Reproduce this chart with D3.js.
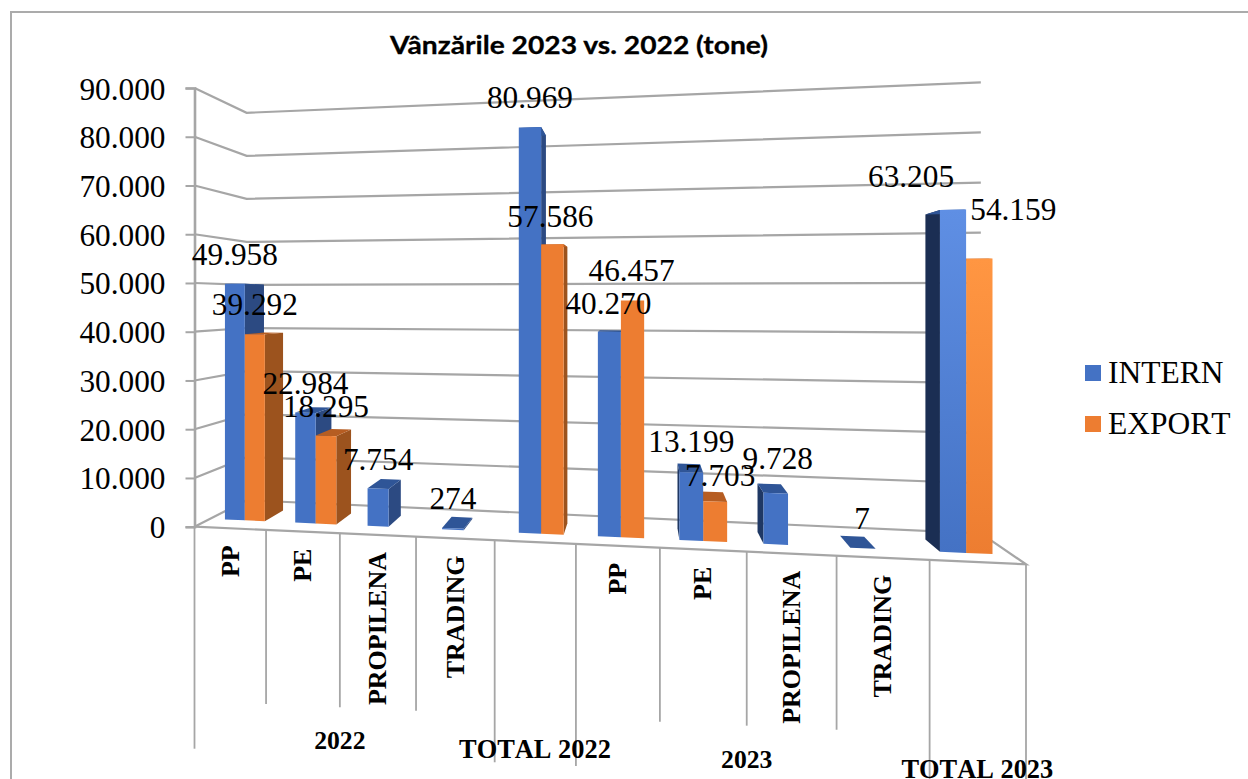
<!DOCTYPE html>
<html>
<head>
<meta charset="utf-8">
<script src="https://cdn.jsdelivr.net/npm/d3@7/dist/d3.min.js"></script>
<style>
html,body{margin:0;padding:0;background:#fff;overflow:hidden}
svg{display:block}
text{font-family:"Liberation Serif","Times New Roman",serif;fill:#000}
</style>
</head>
<body>
<svg id="chart" width="1248" height="779"></svg>
<script>
// ---- data ----
const chartTitle = "Vânzările 2023 vs. 2022 (tone)";
const categories = ["PP","PE","PROPILENA","TRADING","","PP","PE","PROPILENA","TRADING",""];
const groups = [
  {name:"2022", from:0, to:4},
  {name:"TOTAL 2022", from:4, to:5},
  {name:"2023", from:5, to:9},
  {name:"TOTAL 2023", from:9, to:10}
];
const seriesNames = ["INTERN","EXPORT"];
const intern = [49958,22984,7754,274,80969,40270,13199,9728,7,63205];
const exportValues = [39292,18295,null,null,57586,46457,7703,null,null,54159];
const yTicks = [0,10000,20000,30000,40000,50000,60000,70000,80000,90000];
// hand-moved data labels in the original: [dx, dy]
const internLabelShift = [[0,0],[0,0],[0,0],[0,0],[0,0],[-1,1],[0,-1],[2,-5],[-1,0],[-42,-4]];
const exportLabelShift = [[0,0],[0,0],null,null,[-2,2],[-1,0],[5,3],null,null,[34,-20]];

// ---- style ----
const BLUE = {front:"#4472C4", right:"#2C4A82", left:"#1F3864", top:"#2F5597"};
const ORANGE = {front:"#ED7D31", right:"#9C531E", left:"#8A4A1C", top:"#B65D22"};
const GRID = "#A6A6A6";

const svg = d3.select("#chart");
const defs = svg.append("defs");
function grad(id, a, b){
  const g = defs.append("linearGradient").attr("id",id).attr("x1",0).attr("y1",0).attr("x2",0).attr("y2",1);
  g.append("stop").attr("offset","0%").attr("stop-color",a);
  g.append("stop").attr("offset","100%").attr("stop-color",b);
}
grad("totBlue","#5F8FE4","#4472C4");
grad("totOrange","#FF9642","#ED7D31");

// ---- scales and projection ----
const y = d3.scaleLinear().domain([0,90000]).range([526.7,88]);   // left front edge
const nCat = categories.length;
// horizontal foreshortening of the chart's front plane
const kBars = 1.165, kFrame = 1.18;
const persp = (u,k) => u/(k-(k-1)*u);
const uScale = d3.scaleLinear().domain([0,nCat]).range([0,1]);
const xPlane = d3.scaleLinear().domain([0,1]).range([194.5,1026]);
const floorY = d3.scaleLinear().domain([0,1]).range([526.7,564.3]);
const ceilY  = d3.scaleLinear().domain([0,1]).range([88,53.5]);
const VP = [640,300], depthShrink = 0.117;

function project(cat, val, z, k=kBars){
  const s = persp(uScale(cat),k);
  const fx = xPlane(s);
  const frac = (y(0)-y(val))/(y(0)-y(90000));
  const fy = floorY(s)+(ceilY(s)-floorY(s))*frac;
  const f = 1-depthShrink*z;
  return [VP[0]+(fx-VP[0])*f, VP[1]+(fy-VP[1])*f];
}
const line = d3.line();

// ---- outer frame ----
svg.append("path").attr("d",line([[11,780],[11,12],[1249,12]]))
  .attr("fill","none").attr("stroke","#ABABAB").attr("stroke-width",2);

// ---- title ----
svg.append("text").attr("x",579).attr("y",54).attr("text-anchor","middle")
  .attr("textLength",378).attr("lengthAdjust","spacingAndGlyphs")
  .style("font-family","Lato,'Open Sans',sans-serif").style("font-weight",700).style("font-size","25px")
  .style("stroke","#000").style("stroke-width",0.3)
  .text(chartTitle);

// ---- walls and floor ----
const gridG = svg.append("g").attr("fill","none").attr("stroke",GRID).attr("stroke-width",2.2);
gridG.selectAll("path.grid").data(yTicks).join("path").attr("class","grid")
  .attr("d",v=>line([project(0,v,0),project(0,v,1),project(nCat,v,1)]));
gridG.append("path").attr("d",line([project(0,0,0),project(nCat,0,0),project(nCat,0,1)]));

// ---- y axis ----
const fmt = d3.formatLocale({decimal:",",thousands:".",grouping:[3],currency:["",""]}).format(",d");
const axisG = svg.append("g").attr("transform","translate(194.5,0)")
  .call(d3.axisLeft(y).tickValues(yTicks).tickFormat(fmt).tickSize(9).tickPadding(20));
axisG.select(".domain").attr("stroke",GRID).attr("stroke-width",2.6);
axisG.selectAll(".tick line").attr("stroke",GRID).attr("stroke-width",2);
axisG.selectAll(".tick text").attr("dy",null).attr("y",null)
  .attr("transform","translate(0,11)")
  .style("font-family","'Liberation Serif',serif").style("font-size","31.3px").attr("fill","#000");

// ---- category dividers ----
const divG = svg.append("g").attr("stroke",GRID).attr("stroke-width",1.8);
d3.range(nCat+1).forEach(i=>{
  const p = project(i,0,0,kFrame);
  const long = groups.some(g=>g.from===i||g.to===i);
  divG.append("line").attr("x1",p[0]).attr("x2",p[0]).attr("y1",p[1]).attr("y2",p[1]+(long?222:174));
});

// ---- bars ----
const GAP = 1.5, Z0 = 0.3, Z1 = 0.7;
const barW = 1/(2+GAP), margin = GAP/2*barW;
const barsG = svg.append("g");
const labels = [];
function drawBar(cat, s, val, pal, isGrad){
  const x0 = cat+margin+s*barW, x1 = x0+barW;
  const P = (x,v,z)=>project(x,v,z);
  const g = barsG.append("g");
  const frontL = P(x0,0,Z0)[0], frontR = P(x1,0,Z0)[0];
  if(frontR<VP[0]-1){
    g.append("path").attr("fill",pal.right).attr("d",line([P(x1,0,Z0),P(x1,val,Z0),P(x1,val,Z1),P(x1,0,Z1)])+"Z");
  }
  if(frontL>VP[0]+1){
    g.append("path").attr("fill",cat===9?"#1B2E53":pal.left).attr("d",line([P(x0,0,Z0),P(x0,val,Z0),P(x0,val,Z1),P(x0,0,Z1)])+"Z");
  }
  g.append("path").attr("fill",pal.top).attr("d",line([P(x0,val,Z0),P(x1,val,Z0),P(x1,val,Z1),P(x0,val,Z1)])+"Z");
  g.append("path").attr("fill",isGrad||pal.front).attr("d",line([P(x0,0,Z0),P(x1,0,Z0),P(x1,val,Z0),P(x0,val,Z0)])+"Z");
  return [(P(x0,val,Z0)[0]+P(x1,val,Z0)[0])/2,(P(x0,val,Z0)[1]+P(x1,val,Z0)[1])/2];
}
categories.forEach((c,i)=>{
  const rightOfVP = project(i+0.5,0,0)[0]>VP[0];
  const order = rightOfVP ? [1,0] : [0,1];
  order.forEach(s=>{
    const val = (s===0?intern:exportValues)[i];
    if(val==null) return;
    const gradId = i===9 ? (s===0?"url(#totBlue)":"url(#totOrange)") : null;
    const top = drawBar(i,s,val,s===0?BLUE:ORANGE,gradId);
    const shift = (s===0?internLabelShift:exportLabelShift)[i];
    labels.push({x:top[0]+shift[0],y:top[1]-19+shift[1],t:fmt(val)});
  });
});

// ---- data labels ----
svg.append("g").selectAll("text").data(labels).join("text")
  .attr("x",d=>d.x).attr("y",d=>d.y).attr("text-anchor","middle")
  .style("font-size","31.3px").text(d=>d.t);

// ---- category labels ----
categories.forEach((c,i)=>{
  if(!c) return;
  const p = project(i+0.5,0,0,kFrame);
  svg.append("text").attr("transform",`translate(${p[0]+8.5},${p[1]+17}) rotate(-90)`)
    .attr("text-anchor","end").style("font-size","26px").style("font-weight",700).text(c);
});
groups.forEach(g=>{
  const p = project((g.from+g.to)/2,0,0,kFrame);
  svg.append("text").attr("x",p[0]).attr("y",p[1]+216).attr("text-anchor","middle")
    .style("font-kerning","none")
    .style("font-size",g.name.length>4?"26.4px":"25.7px").style("font-weight",700).text(g.name);
});

// ---- legend ----
const legendY = d3.scalePoint().domain(seriesNames).range([365,416]);
const legend = svg.append("g").selectAll("g").data(seriesNames).join("g");
legend.append("rect").attr("x",1085).attr("y",d=>legendY(d)).attr("width",16).attr("height",16)
  .attr("fill",(d,i)=>i===0?BLUE.front:ORANGE.front);
legend.append("text").attr("x",1108).attr("y",d=>legendY(d)+17.5)
  .style("font-kerning","none")
  .style("font-size","31.5px").text(d=>d);
</script>
</body>
</html>
